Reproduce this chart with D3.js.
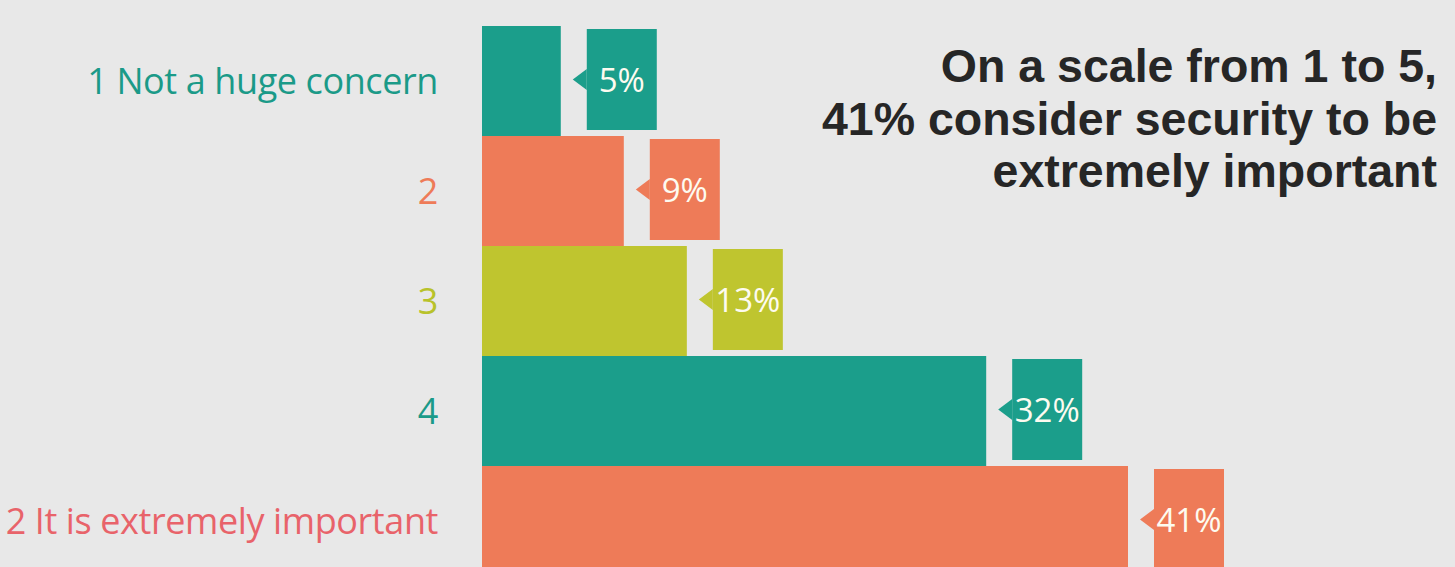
<!DOCTYPE html>
<html>
<head>
<meta charset="utf-8">
<script src="https://cdn.jsdelivr.net/npm/d3@7"></script>
<style>
  html, body { margin: 0; padding: 0; background: #e8e8e8; }
  svg { display: block; }
</style>
</head>
<body>
<svg id="chart" width="1455" height="567"></svg>
<script>
// ---- data ----
const categories = ["1 Not a huge concern", "2", "3", "4", "2 It is extremely important"];
const values = [5, 9, 13, 32, 41];
const valueLabels = ["5%", "9%", "13%", "32%", "41%"];
const titleLines = ["On a scale from 1 to 5,", "41% consider security to be", "extremely important"];

// ---- styles ----
const barColors = ["#1b9e8b", "#ee7b58", "#bfc52f", "#1b9e8b", "#ee7b58"];
const labelColors = ["#1b9a88", "#ee7b58", "#b8c22a", "#1b9a88", "#e8636a"];

const W = 1455, H = 567;
const svg = d3.select("#chart");
svg.append("rect").attr("width", W).attr("height", H).attr("fill", "#e8e8e8");

const x0 = 482;
const x = d3.scaleLinear().domain([0, 41]).range([0, 646]);
const y = d3.scaleBand().domain(categories).range([26, 576]).padding(0);

const data = categories.map((c, i) => ({ c, v: values[i], lab: valueLabels[i], i }));

// bars
svg.append("g").selectAll("rect").data(data).join("rect")
  .attr("x", x0)
  .attr("y", d => y(d.c))
  .attr("width", d => x(d.v))
  .attr("height", y.bandwidth())
  .attr("fill", d => barColors[d.i]);

// value callouts
const gap = 26, boxW = 70, boxH = 101, boxTop = 3;
const call = svg.append("g").selectAll("g").data(data).join("g")
  .attr("transform", d => `translate(${x0 + x(d.v) + gap},${y(d.c) + boxTop})`);
call.append("rect")
  .attr("width", boxW).attr("height", boxH)
  .attr("fill", d => barColors[d.i]);
call.append("path")
  .attr("d", `M0,${boxH/2 - 10.5}L-14,${boxH/2}L0,${boxH/2 + 10.5}Z`)
  .attr("fill", d => barColors[d.i]);
call.append("text")
  .attr("x", boxW / 2)
  .attr("y", boxH / 2 + 12)
  .attr("text-anchor", "middle")
  .attr("fill", "#fdfbf0")
  .style("font-family", "'Open Sans', sans-serif")
  .style("font-size", "33px")
  .text(d => d.lab);

// category labels
svg.append("g").selectAll("text").data(data).join("text")
  .attr("x", 438)
  .attr("y", d => y(d.c) + y.bandwidth() / 2 + 13)
  .attr("text-anchor", "end")
  .attr("fill", d => labelColors[d.i])
  .style("font-family", "'Open Sans', sans-serif")
  .style("font-size", "36px")
  .style("letter-spacing", "-0.4px")
  .text(d => d.c);

// title
svg.append("g").selectAll("text").data(titleLines).join("text")
  .attr("x", 1437)
  .attr("y", (d, i) => 82 + i * 52.5)
  .attr("text-anchor", "end")
  .attr("fill", "#262626")
  .style("font-family", "'Liberation Sans', Arial, sans-serif")
  .style("font-weight", "700")
  .style("font-size", "46.5px")
  .text(d => d);
</script>
</body>
</html>
